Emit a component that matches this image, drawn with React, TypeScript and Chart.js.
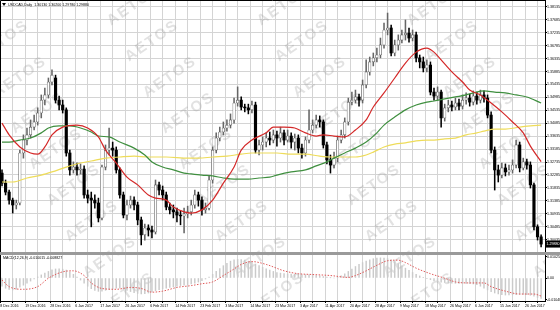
import React, { useEffect, useRef } from "react";
import { Chart, registerables } from "chart.js";

Chart.register(...registerables);

const SYMBOL_TITLE = "USDCAD,Daily  1.30130 1.30200 1.29780 1.29880";
const MACD_TITLE = "MACD(12,26,9) -0.010015 -0.008827";

const DATE_LABELS = [
  "8 Dec 2016", "19 Dec 2016", "28 Dec 2016", "6 Jan 2017", "17 Jan 2017", "26 Jan 2017",
  "6 Feb 2017", "14 Feb 2017", "23 Feb 2017", "3 Mar 2017", "14 Mar 2017", "23 Mar 2017",
  "3 Apr 2017", "11 Apr 2017", "20 Apr 2017", "28 Apr 2017", "9 May 2017", "18 May 2017",
  "26 May 2017", "6 Jun 2017", "15 Jun 2017", "26 Jun 2017",
];

const PRICE_TICKS = [
  1.38135, 1.37685, 1.37235, 1.36785, 1.36335, 1.35885, 1.35435, 1.34985, 1.34535, 1.34085,
  1.33635, 1.33185, 1.32735, 1.32285, 1.31835, 1.31385, 1.30935, 1.30485, 1.30035,
];
const MACD_TICKS = [0.010257, 0, -0.010486];

const OPEN = [
  1.3235, 1.3200, 1.3169, 1.3141, 1.3124, 1.3131, 1.3305, 1.3350, 1.3368, 1.3395,
  1.3413, 1.3444, 1.3489, 1.3507, 1.3552, 1.3566, 1.3489, 1.3472, 1.3455, 1.3305,
  1.3246, 1.3256, 1.3246, 1.3249, 1.3159, 1.3148, 1.3141, 1.3131, 1.3079, 1.3256,
  1.3315, 1.3322, 1.3315, 1.3246, 1.3159, 1.3089, 1.3124, 1.3141, 1.3124, 1.3072,
  1.3020, 1.3044, 1.3037, 1.3030, 1.3194, 1.3176, 1.3159, 1.3117, 1.3107, 1.3100,
  1.3089, 1.3086, 1.3093, 1.3100, 1.3124, 1.3159, 1.3141, 1.3107, 1.3113, 1.3211,
  1.3315, 1.3357, 1.3378, 1.3392, 1.3402, 1.3420, 1.3479, 1.3489, 1.3465, 1.3462,
  1.3455, 1.3472, 1.3315, 1.3333, 1.3343, 1.3357, 1.3350, 1.3368, 1.3357, 1.3375,
  1.3350, 1.3364, 1.3343, 1.3357, 1.3322, 1.3305, 1.3350, 1.3385, 1.3402, 1.3420,
  1.3413, 1.3333, 1.3281, 1.3263, 1.3287, 1.3350, 1.3368, 1.3413, 1.3482, 1.3489,
  1.3500, 1.3489, 1.3542, 1.3587, 1.3622, 1.3636, 1.3646, 1.3681, 1.3733, 1.3740,
  1.3653, 1.3681, 1.3698, 1.3716, 1.3722, 1.3705, 1.3716, 1.3636, 1.3622, 1.3601,
  1.3611, 1.3517, 1.3503, 1.3517, 1.3427, 1.3462, 1.3472, 1.3465, 1.3479, 1.3468,
  1.3489, 1.3496, 1.3482, 1.3503, 1.3489, 1.3507, 1.3496, 1.3437, 1.3315, 1.3246,
  1.3228, 1.3253, 1.3239, 1.3246, 1.3263, 1.3333, 1.3253, 1.3274, 1.3263, 1.3194,
  1.3048, 1.3013,
];
const HIGH = [
  1.3246, 1.3211, 1.3176, 1.3148, 1.3141, 1.3315, 1.3368, 1.3392, 1.3420, 1.3437,
  1.3462, 1.3507, 1.3531, 1.3566, 1.3594, 1.3576, 1.3503, 1.3489, 1.3462, 1.3315,
  1.3274, 1.3270, 1.3267, 1.3260, 1.3176, 1.3169, 1.3159, 1.3148, 1.3263, 1.3333,
  1.3392, 1.3343, 1.3326, 1.3253, 1.3169, 1.3141, 1.3155, 1.3152, 1.3134, 1.3082,
  1.3058, 1.3055, 1.3051, 1.3211, 1.3204, 1.3190, 1.3169, 1.3131, 1.3124, 1.3113,
  1.3103, 1.3113, 1.3120, 1.3141, 1.3176, 1.3169, 1.3152, 1.3131, 1.3225, 1.3326,
  1.3375, 1.3395, 1.3413, 1.3420, 1.3441, 1.3496, 1.3535, 1.3500, 1.3475, 1.3475,
  1.3486, 1.3482, 1.3350, 1.3361, 1.3375, 1.3378, 1.3385, 1.3381, 1.3395, 1.3385,
  1.3385, 1.3375, 1.3371, 1.3368, 1.3336, 1.3361, 1.3455, 1.3420, 1.3437, 1.3434,
  1.3420, 1.3343, 1.3298, 1.3308, 1.3364, 1.3385, 1.3427, 1.3496, 1.3517, 1.3524,
  1.3510, 1.3559, 1.3629, 1.3639, 1.3653, 1.3670, 1.3705, 1.3757, 1.3792, 1.3750,
  1.3698, 1.3716, 1.3733, 1.3768, 1.3740, 1.3733, 1.3726, 1.3646, 1.3639, 1.3629,
  1.3622, 1.3531, 1.3535, 1.3524, 1.3475, 1.3489, 1.3486, 1.3496, 1.3493, 1.3507,
  1.3514, 1.3510, 1.3521, 1.3517, 1.3524, 1.3521, 1.3507, 1.3448, 1.3326, 1.3263,
  1.3270, 1.3267, 1.3263, 1.3281, 1.3350, 1.3343, 1.3287, 1.3284, 1.3274, 1.3200,
  1.3055, 1.3020,
];
const LOW = [
  1.3190, 1.3159, 1.3127, 1.3096, 1.3110, 1.3124, 1.3287, 1.3333, 1.3357, 1.3385,
  1.3402, 1.3427, 1.3472, 1.3496, 1.3542, 1.3479, 1.3455, 1.3444, 1.3294, 1.3228,
  1.3235, 1.3228, 1.3232, 1.3148, 1.3131, 1.3048, 1.3113, 1.3065, 1.3072, 1.3246,
  1.3298, 1.3294, 1.3235, 1.3148, 1.3079, 1.3072, 1.3113, 1.3107, 1.3055, 1.2985,
  1.3002, 1.3016, 1.3009, 1.3023, 1.3159, 1.3141, 1.3107, 1.3093, 1.3079, 1.3065,
  1.3055, 1.3027, 1.3079, 1.3089, 1.3113, 1.3120, 1.3089, 1.3096, 1.3107, 1.3200,
  1.3305, 1.3347, 1.3368, 1.3381, 1.3392, 1.3409, 1.3468, 1.3455, 1.3448, 1.3441,
  1.3444, 1.3305, 1.3298, 1.3315, 1.3326, 1.3333, 1.3340, 1.3329, 1.3343, 1.3333,
  1.3343, 1.3322, 1.3315, 1.3305, 1.3287, 1.3294, 1.3340, 1.3375, 1.3392, 1.3395,
  1.3322, 1.3267, 1.3235, 1.3253, 1.3274, 1.3340, 1.3357, 1.3402, 1.3472, 1.3479,
  1.3468, 1.3479, 1.3531, 1.3576, 1.3608, 1.3622, 1.3636, 1.3670, 1.3716, 1.3643,
  1.3643, 1.3663, 1.3688, 1.3698, 1.3691, 1.3695, 1.3622, 1.3601, 1.3587, 1.3587,
  1.3507, 1.3489, 1.3489, 1.3395, 1.3416, 1.3448, 1.3451, 1.3455, 1.3455, 1.3458,
  1.3475, 1.3468, 1.3472, 1.3475, 1.3479, 1.3482, 1.3427, 1.3305, 1.3176, 1.3204,
  1.3218, 1.3225, 1.3228, 1.3235, 1.3253, 1.3239, 1.3246, 1.3249, 1.3183, 1.3037,
  1.3002, 1.2978,
];
const CLOSE = [
  1.3200, 1.3169, 1.3141, 1.3124, 1.3131, 1.3305, 1.3350, 1.3368, 1.3395, 1.3413,
  1.3444, 1.3489, 1.3507, 1.3552, 1.3576, 1.3489, 1.3472, 1.3455, 1.3305, 1.3246,
  1.3256, 1.3246, 1.3249, 1.3159, 1.3148, 1.3141, 1.3131, 1.3079, 1.3256, 1.3315,
  1.3322, 1.3315, 1.3246, 1.3159, 1.3089, 1.3124, 1.3141, 1.3124, 1.3072, 1.3020,
  1.3044, 1.3037, 1.3030, 1.3194, 1.3176, 1.3159, 1.3117, 1.3107, 1.3100, 1.3089,
  1.3086, 1.3093, 1.3100, 1.3124, 1.3159, 1.3141, 1.3107, 1.3113, 1.3211, 1.3315,
  1.3357, 1.3378, 1.3392, 1.3402, 1.3420, 1.3479, 1.3489, 1.3465, 1.3462, 1.3455,
  1.3472, 1.3315, 1.3333, 1.3343, 1.3357, 1.3350, 1.3368, 1.3357, 1.3375, 1.3350,
  1.3364, 1.3343, 1.3357, 1.3322, 1.3305, 1.3350, 1.3385, 1.3402, 1.3420, 1.3413,
  1.3333, 1.3281, 1.3263, 1.3287, 1.3350, 1.3368, 1.3413, 1.3482, 1.3489, 1.3500,
  1.3489, 1.3542, 1.3587, 1.3622, 1.3636, 1.3646, 1.3681, 1.3733, 1.3740, 1.3653,
  1.3681, 1.3698, 1.3716, 1.3722, 1.3705, 1.3716, 1.3636, 1.3622, 1.3601, 1.3611,
  1.3517, 1.3503, 1.3517, 1.3427, 1.3462, 1.3472, 1.3465, 1.3479, 1.3468, 1.3489,
  1.3496, 1.3482, 1.3503, 1.3489, 1.3507, 1.3496, 1.3437, 1.3315, 1.3246, 1.3228,
  1.3253, 1.3239, 1.3246, 1.3263, 1.3333, 1.3253, 1.3274, 1.3263, 1.3194, 1.3048,
  1.3013, 1.2988,
];

const RED_IDX = [0, 2, 5, 8, 10, 12, 14, 17, 21, 24, 27, 29, 32, 35, 38, 41, 43, 46, 48, 51, 53, 56, 59, 62, 65, 67, 70, 74, 76, 79, 82, 85, 88, 90, 93, 96, 99, 102, 104, 107, 110, 113, 116, 119, 121, 123, 126, 129, 131, 134, 137, 140, 143, 146, 148, 151];
const RED_MA = [1.3409, 1.3368, 1.3326, 1.3305, 1.3301, 1.3326, 1.3368, 1.3395, 1.3402, 1.3392, 1.3361, 1.3315, 1.3270, 1.3221, 1.3194, 1.3159, 1.3148, 1.3141, 1.3117, 1.3100, 1.3096, 1.3107, 1.3141, 1.3200, 1.3256, 1.3315, 1.3350, 1.3375, 1.3395, 1.3395, 1.3392, 1.3375, 1.3364, 1.3368, 1.3364, 1.3361, 1.3385, 1.3420, 1.3465, 1.3514, 1.3566, 1.3618, 1.3656, 1.3670, 1.3656, 1.3629, 1.3587, 1.3552, 1.3524, 1.3507, 1.3479, 1.3448, 1.3413, 1.3375, 1.3329, 1.3275];

const GREEN_IDX = [0, 2, 5, 8, 11, 13, 16, 19, 22, 25, 27, 30, 33, 37, 40, 42, 45, 48, 51, 53, 56, 59, 62, 65, 69, 72, 75, 77, 81, 85, 88, 91, 93, 96, 99, 102, 105, 107, 110, 113, 116, 119, 121, 124, 127, 130, 132, 135, 138, 141, 144, 147, 151];
const GREEN_MA = [1.3343, 1.3343, 1.3350, 1.3357, 1.3375, 1.3392, 1.3399, 1.3399, 1.3392, 1.3378, 1.3364, 1.3361, 1.3343, 1.3322, 1.3298, 1.3274, 1.3256, 1.3246, 1.3235, 1.3232, 1.3228, 1.3225, 1.3218, 1.3214, 1.3214, 1.3218, 1.3221, 1.3228, 1.3239, 1.3246, 1.3260, 1.3274, 1.3287, 1.3305, 1.3322, 1.3343, 1.3375, 1.3402, 1.3430, 1.3455, 1.3472, 1.3482, 1.3486, 1.3493, 1.3500, 1.3507, 1.3514, 1.3521, 1.3517, 1.3514, 1.3507, 1.3500, 1.3479];

const YELLOW_IDX = [0, 3, 7, 11, 14, 18, 22, 25, 29, 33, 37, 41, 46, 52, 55, 59, 63, 67, 70, 74, 77, 81, 85, 89, 92, 96, 99, 102, 104, 107, 110, 113, 116, 119, 121, 124, 127, 130, 133, 135, 138, 141, 145, 148, 151];
const YELLOW_MA = [1.3204, 1.3204, 1.3218, 1.3228, 1.3239, 1.3256, 1.3270, 1.3277, 1.3287, 1.3291, 1.3294, 1.3291, 1.3291, 1.3287, 1.3287, 1.3291, 1.3294, 1.3301, 1.3305, 1.3305, 1.3305, 1.3301, 1.3301, 1.3294, 1.3291, 1.3291, 1.3291, 1.3298, 1.3308, 1.3326, 1.3336, 1.3340, 1.3347, 1.3350, 1.3350, 1.3354, 1.3357, 1.3368, 1.3375, 1.3381, 1.3388, 1.3388, 1.3395, 1.3399, 1.3402];

const MACD_HIST = [
  -0.0040, -0.0050, -0.0056, -0.0058, -0.0055, -0.0045, -0.0035, -0.0025, -0.0015, -0.0005,
  0.0005, 0.0015, 0.0024, 0.0032, 0.0040, 0.0044, 0.0045, 0.0043, 0.0038, 0.0030,
  0.0018, 0.0005, -0.0010, -0.0025, -0.0040, -0.0052, -0.0060, -0.0065, -0.0064, -0.0060,
  -0.0056, -0.0053, -0.0050, -0.0050, -0.0054, -0.0060, -0.0066, -0.0071, -0.0075, -0.0077,
  -0.0076, -0.0073, -0.0068, -0.0062, -0.0057, -0.0053, -0.0049, -0.0046, -0.0043, -0.0040,
  -0.0037, -0.0035, -0.0032, -0.0029, -0.0025, -0.0020, -0.0013, -0.0005, 0.0005, 0.0018,
  0.0032, 0.0046, 0.0060, 0.0072, 0.0082, 0.0088, 0.0091, 0.0090, 0.0087, 0.0082,
  0.0076, 0.0068, 0.0060, 0.0052, 0.0045, 0.0038, 0.0032, 0.0027, 0.0024, 0.0021,
  0.0020, 0.0019, 0.0018, 0.0018, 0.0017, 0.0016, 0.0015, 0.0014, 0.0012, 0.0010,
  0.0007, 0.0004, 0.0001, 0.0000, 0.0003, 0.0010, 0.0020, 0.0032, 0.0044, 0.0056,
  0.0066, 0.0075, 0.0083, 0.0089, 0.0094, 0.0097, 0.0098, 0.0097, 0.0094, 0.0088,
  0.0080, 0.0070, 0.0059, 0.0048, 0.0037, 0.0027, 0.0018, 0.0010, 0.0003, -0.0003,
  -0.0008, -0.0013, -0.0017, -0.0020, -0.0022, -0.0024, -0.0025, -0.0026, -0.0026, -0.0026,
  -0.0026, -0.0027, -0.0029, -0.0033, -0.0040, -0.0049, -0.0058, -0.0066, -0.0073, -0.0078,
  -0.0081, -0.0083, -0.0083, -0.0082, -0.0081, -0.0080, -0.0080, -0.0081, -0.0084, -0.0089,
  -0.0095, -0.0100,
];
const SIGNAL_IDX = [0, 2, 6, 10, 13, 17, 20, 23, 25, 28, 32, 36, 39, 42, 45, 49, 53, 56, 59, 62, 65, 67, 70, 74, 79, 83, 87, 92, 97, 99, 102, 105, 108, 111, 113, 116, 120, 124, 127, 131, 135, 137, 141, 145, 149, 151];
const SIGNAL = [-0.0010, -0.0042, -0.0055, -0.0042, -0.0001, 0.0030, 0.0035, 0.0012, -0.0024, -0.0051, -0.0055, -0.0046, -0.0051, -0.0069, -0.0064, -0.0046, -0.0037, -0.0028, -0.0019, 0.0012, 0.0044, 0.0066, 0.0080, 0.0066, 0.0035, 0.0021, 0.0017, 0.0012, 0.0003, 0.0012, 0.0035, 0.0062, 0.0084, 0.0087, 0.0075, 0.0048, 0.0021, -0.0001, -0.0019, -0.0024, -0.0024, -0.0042, -0.0064, -0.0078, -0.0078, -0.0088];

const FONT_FAMILY = '"Liberation Sans", Arial, sans-serif';
const TEXT_SIZE = 3.6;
const AXIS_W = 15;
const X_MIN = -0.56;
const X_MAX = 152.09;
const GRID = "#d4d4d4";

const xTickValues = () => {
  const t: { value: number }[] = [];
  for (let k = 0; k * 3.5 - 0.5 <= X_MAX; k++) t.push({ value: k * 3.5 - 0.5 });
  return t;
};

const pairs = (idx: number[], vals: number[]) => idx.map((x, k) => ({ x, y: vals[k] }));

const watermark = (offsetY: number) => ({
  id: "wm",
  beforeDatasetsDraw(chart: any) {
    const { ctx, chartArea: a } = chart;
    ctx.save();
    ctx.beginPath();
    ctx.rect(a.left, a.top, a.right - a.left, a.bottom - a.top);
    ctx.clip();
    ctx.font = `bold 15px ${FONT_FAMILY}`;
    ctx.fillStyle = "rgba(150,150,150,0.28)";
    ctx.textAlign = "center";
    ctx.textBaseline = "middle";
    try { (ctx as any).letterSpacing = "2px"; } catch (e) {}
    for (let j = -1; j < 10; j++) {
      for (let c = -1; c < 5; c++) {
        const x = -16 + c * 150 + j * 18;
        const y = 5 + j * 36 - offsetY;
        ctx.save();
        ctx.translate(x, y);
        ctx.rotate(-0.6);
        ctx.fillText("AETOS", 0, 0);
        ctx.restore();
      }
    }
    ctx.restore();
  },
});

const mainOverlay = {
  id: "mainOverlay",
  afterDraw(chart: any) {
    const { ctx, chartArea: a, scales } = chart;
    ctx.save();
    ctx.strokeStyle = "#000";
    ctx.lineWidth = 1;
    ctx.beginPath();
    ctx.moveTo(0.5, a.bottom);
    ctx.lineTo(0.5, 0.5);
    ctx.lineTo(a.right, 0.5);
    ctx.stroke();
    ctx.fillStyle = "#000";
    ctx.beginPath();
    ctx.moveTo(2, 3);
    ctx.lineTo(6, 3);
    ctx.lineTo(4, 6);
    ctx.closePath();
    ctx.fill();
    ctx.font = `${TEXT_SIZE}px ${FONT_FAMILY}`;
    ctx.textBaseline = "middle";
    ctx.textAlign = "left";
    ctx.fillText(SYMBOL_TITLE, 8, 4.5);
    const last = CLOSE[CLOSE.length - 1];
    const y = scales.y.getPixelForValue(last);
    ctx.fillRect(a.right, y - 3.5, AXIS_W, 7);
    ctx.fillStyle = "#fff";
    ctx.fillText(last.toFixed(5), a.right + 1.5, y);
    ctx.restore();
  },
};

const macdOverlay = {
  id: "macdOverlay",
  afterDraw(chart: any) {
    const { ctx, chartArea: a } = chart;
    ctx.save();
    ctx.strokeStyle = "#000";
    ctx.lineWidth = 1;
    ctx.beginPath();
    ctx.moveTo(0.5, a.bottom);
    ctx.lineTo(0.5, 0);
    ctx.stroke();
    ctx.fillStyle = "#000";
    ctx.font = `${TEXT_SIZE}px ${FONT_FAMILY}`;
    ctx.textBaseline = "middle";
    ctx.textAlign = "left";
    ctx.fillText(MACD_TITLE, 3, 3);
    ctx.restore();
  },
};

const isBull = (i: number) => CLOSE[i] >= OPEN[i];

export default function App() {
  const mainRef = useRef<HTMLCanvasElement>(null);
  const macdRef = useRef<HTMLCanvasElement>(null);

  useEffect(() => {
    document.body.style.margin = "0";
    const font = { size: TEXT_SIZE, family: FONT_FAMILY };
    const bars = OPEN.map((_, i) => i);

    const xMain: any = {
      type: "linear",
      min: X_MIN,
      max: X_MAX,
      offset: false,
      afterBuildTicks: (s: any) => { s.ticks = xTickValues(); },
      afterFit: (s: any) => { s.height = 0; s.paddingLeft = 0; s.paddingRight = 0; },
      ticks: { display: false },
      grid: { color: GRID, drawTicks: false, offset: false },
      border: { display: false },
    };

    const main = new Chart(mainRef.current!, {
      type: "bar",
      data: {
        datasets: [
          { type: "line", data: pairs(RED_IDX, RED_MA), borderColor: "#d42828", borderWidth: 1.2, pointRadius: 0, cubicInterpolationMode: "monotone" } as any,
          { type: "line", data: pairs(GREEN_IDX, GREEN_MA), borderColor: "#3f8f3f", borderWidth: 1.2, pointRadius: 0, cubicInterpolationMode: "monotone" } as any,
          { type: "line", data: pairs(YELLOW_IDX, YELLOW_MA), borderColor: "#eedc5a", borderWidth: 1.2, pointRadius: 0, cubicInterpolationMode: "monotone" } as any,
          {
            type: "bar",
            data: bars.map((i) => ({ x: i, y: [OPEN[i], CLOSE[i]] })),
            grouped: false,
            barThickness: 2.5,
            maxBarThickness: 2.5,
            minBarLength: 0.8,
            borderSkipped: false,
            borderWidth: (c: any) => (c.dataIndex !== undefined && isBull(c.dataIndex) ? 0.6 : 0),
            backgroundColor: (c: any) => (c.dataIndex !== undefined && isBull(c.dataIndex) ? "#ffffff" : "#000000"),
            borderColor: "#555",
          } as any,
          {
            type: "bar",
            data: bars.map((i) => ({ x: i, y: [LOW[i], HIGH[i]] })),
            grouped: false,
            barThickness: 0.9,
            maxBarThickness: 0.9,
            borderWidth: 0,
            backgroundColor: (c: any) => (c.dataIndex !== undefined && isBull(c.dataIndex) ? "#666" : "#000"),
          } as any,
        ],
      },
      options: {
        animation: false,
        responsive: false,
        maintainAspectRatio: false,
        devicePixelRatio: 1,
        events: [],
        layout: { padding: 0 },
        plugins: { legend: { display: false }, tooltip: { enabled: false } },
        scales: {
          x: xMain,
          y: {
            type: "linear",
            position: "right",
            min: 1.29604,
            max: 1.38374,
            beginAtZero: false,
            afterBuildTicks: (s: any) => { s.ticks = PRICE_TICKS.map((v) => ({ value: v })); },
            afterFit: (s: any) => { s.width = AXIS_W; s.paddingTop = 0; s.paddingBottom = 0; },
            ticks: { font, color: "#000", padding: 0, callback: (v: any) => Number(v).toFixed(5) },
            grid: { color: GRID, drawTicks: true, tickLength: 2, tickColor: "#000" },
            border: { display: true, color: "#000", width: 1 },
          } as any,
        },
      },
      plugins: [watermark(0), mainOverlay],
    });

    const macd = new Chart(macdRef.current!, {
      type: "bar",
      data: {
        datasets: [
          { type: "line", data: pairs(SIGNAL_IDX, SIGNAL), borderColor: "#e05a5a", borderWidth: 1, borderDash: [1.5, 1.5], pointRadius: 0, cubicInterpolationMode: "monotone" } as any,
          {
            type: "bar",
            data: bars.map((i) => ({ x: i, y: MACD_HIST[i] })),
            grouped: false,
            barThickness: 0.8,
            maxBarThickness: 0.8,
            borderWidth: 0,
            backgroundColor: "#cacaca",
          } as any,
        ],
      },
      options: {
        animation: false,
        responsive: false,
        maintainAspectRatio: false,
        devicePixelRatio: 1,
        events: [],
        layout: { padding: 0 },
        plugins: { legend: { display: false }, tooltip: { enabled: false } },
        scales: {
          x: {
            type: "linear",
            min: X_MIN,
            max: X_MAX,
            offset: false,
            afterBuildTicks: (s: any) => { s.ticks = xTickValues(); },
            afterFit: (s: any) => { s.height = 9; s.paddingLeft = 0; s.paddingRight = 0; },
            ticks: {
              font,
              color: "#000",
              padding: 1,
              autoSkip: false,
              maxRotation: 0,
              minRotation: 0,
              align: "start",
              callback: (_v: any, index: number) => (index % 2 === 0 ? DATE_LABELS[index / 2] ?? "" : ""),
            },
            grid: { color: GRID, drawTicks: true, tickLength: 2, tickColor: "#000", offset: false },
            border: { display: true, color: "#000", width: 1 },
          } as any,
          y: {
            type: "linear",
            position: "right",
            min: -0.0112,
            max: 0.0112,
            beginAtZero: false,
            afterBuildTicks: (s: any) => { s.ticks = MACD_TICKS.map((v) => ({ value: v })); },
            afterFit: (s: any) => { s.width = AXIS_W; s.paddingTop = 0; s.paddingBottom = 0; },
            ticks: { font, color: "#000", padding: 0, callback: (v: any) => (Number(v) === 0 ? "0.00" : Number(v).toFixed(6)) },
            grid: { drawOnChartArea: false, drawTicks: true, tickLength: 2, tickColor: "#000" },
            border: { display: true, color: "#000", width: 1 },
          } as any,
        },
      },
      plugins: [watermark(255), macdOverlay],
    });

    return () => {
      main.destroy();
      macd.destroy();
    };
  }, []);

  return (
    <div style={{ width: 560, height: 310, position: "relative", background: "#fff", overflow: "hidden" }}>
      <canvas ref={mainRef} width={560} height={252} style={{ display: "block" }} />
      <div style={{ height: 3, background: "#9a9a9a" }} />
      <canvas ref={macdRef} width={560} height={55} style={{ display: "block" }} />
    </div>
  );
}
